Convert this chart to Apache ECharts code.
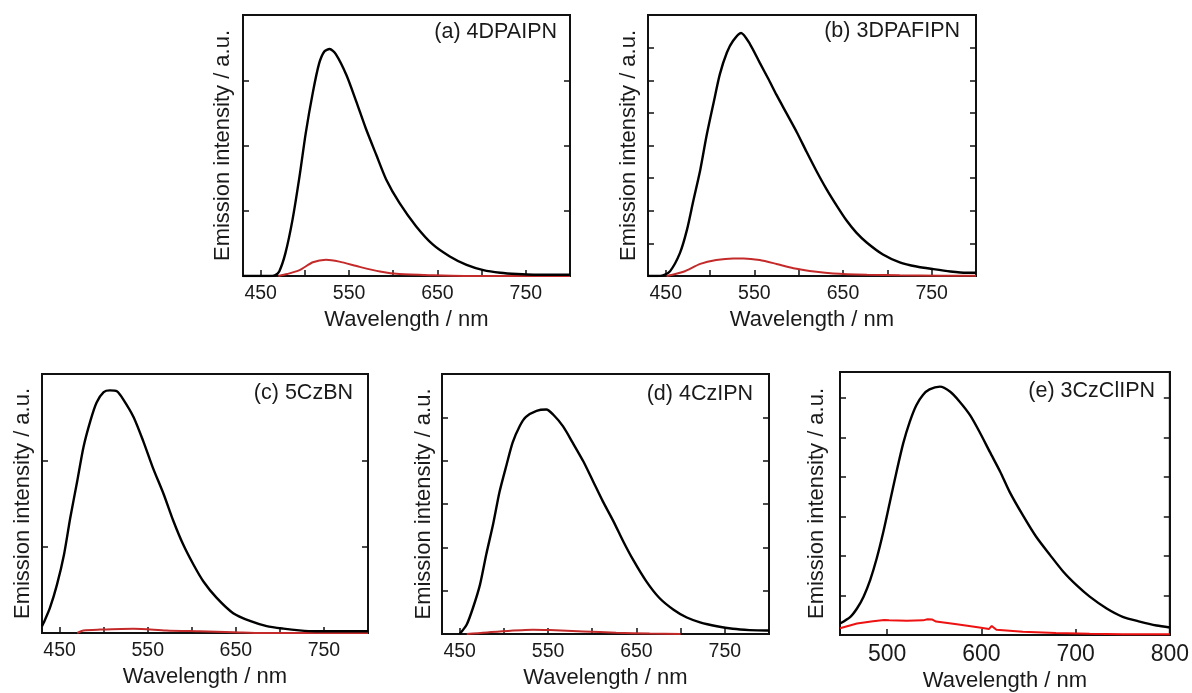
<!DOCTYPE html>
<html><head><meta charset="utf-8">
<script src="https://cdn.jsdelivr.net/npm/echarts@6/dist/echarts.min.js"></script>
<style>html,body{margin:0;padding:0;background:#fff}#c{width:1192px;height:693px}</style>
</head><body><div id="c"></div>
<script>
// ---------- data ----------
const panelTitles = ['(a) 4DPAIPN', '(b) 3DPAFIPN', '(c) 5CzBN', '(d) 4CzIPN', '(e) 3CzClIPN'];
const xName = 'Wavelength / nm';
const yName = 'Emission intensity / a.u.';

const xTicksABCD = [450, 500, 550, 600, 650, 700, 750];
const xLabelsABCD = [450, 550, 650, 750];
const xTicksE = [500, 600, 700, 800];
const xLabelsE = [500, 600, 700, 800];
const yTicksA = [1, 2, 3];
const yTicksB = [1, 2, 3, 4, 5, 6, 7];
const yTicksC = [1, 2];
const yTicksD = [1, 2, 3, 4, 5];
const yTicksE = [1, 2, 3, 4, 5, 6];

const aBlackX = [430,450,460,466,471,478,486,494,501,509,516,522,528,535,547,558,569,581,592,607,626,645,664,683,702,721,740,759,780,800];
const aBlackY = [0,0,0,0.01,0.07,0.35,0.86,1.53,2.19,2.81,3.25,3.44,3.48,3.40,3.08,2.68,2.26,1.85,1.48,1.12,0.76,0.48,0.30,0.17,0.09,0.05,0.03,0.02,0.02,0.02];
const aRedX = [470,480,494,509,524,539,562,585,607,645,680,800];
const aRedY = [0,0.03,0.09,0.21,0.25,0.22,0.14,0.07,0.03,0.01,0,0];

const bBlackX = [430,440,447,455,466,474,481,489,496,504,511,519,526,535,545,556,566,575,586,598,609,620,631,643,654,665,677,695,714,733,752,771,789,800];
const bBlackY = [0,0,0.02,0.15,0.70,1.42,2.29,3.26,4.29,5.31,6.18,6.85,7.21,7.45,7.11,6.54,6.03,5.55,5.0,4.4,3.8,3.22,2.68,2.15,1.7,1.33,1.02,0.66,0.42,0.29,0.21,0.14,0.10,0.10];
const bRedX = [451,470,489,507,526,538,556,575,594,620,639,677,714,760,800];
const bRedY = [0,0.13,0.37,0.49,0.54,0.54,0.49,0.37,0.24,0.13,0.08,0.04,0.02,0.01,0.01];

const cBlackX = [430,432,439,447,455,462,470,477,485,492,500,507,515,522,534,545,556,568,579,590,602,613,628,647,666,685,704,722,741,770,800];
const cBlackY = [0.08,0.12,0.29,0.56,0.91,1.33,1.76,2.15,2.46,2.67,2.79,2.81,2.80,2.71,2.50,2.22,1.91,1.61,1.30,1.03,0.79,0.60,0.41,0.23,0.14,0.08,0.05,0.03,0.02,0.02,0.02];
const cRedX = [470,477,496,534,571,609,647,680,800];
const cRedY = [0,0.03,0.04,0.05,0.03,0.02,0.01,0,0];

const dBlackX = [450,458,465,473,480,488,495,503,510,518,525,537,548,556,567,578,590,601,612,624,635,646,661,676,692,707,722,741,759,778,797,800];
const dBlackY = [0,0.22,0.6,1.14,1.83,2.55,3.27,3.9,4.42,4.8,5.01,5.15,5.18,5.06,4.79,4.41,3.98,3.52,3.06,2.6,2.14,1.72,1.22,0.83,0.56,0.38,0.27,0.18,0.12,0.09,0.08,0.08];
const dRedX = [458,495,533,552,590,627,665,700];
const dRedY = [0,0.06,0.10,0.09,0.06,0.03,0.01,0];

const eBlackX = [450,461,468,475,482,489,496,503,510,517,524,531,538,545,556,567,577,588,598,609,620,630,644,658,673,687,701,715,733,750,768,786,800];
const eBlackY = [0.29,0.46,0.67,0.97,1.39,1.94,2.61,3.37,4.13,4.84,5.39,5.81,6.07,6.21,6.28,6.15,5.9,5.56,5.14,4.63,4.13,3.62,3.03,2.49,2.02,1.6,1.26,0.97,0.67,0.46,0.34,0.24,0.19];
const eRedX = [450,468,485,497,499,502,521,538,543,545,548,552,574,598,608,611,613,616,644,679,715,750,800];
const eRedY = [0.17,0.29,0.35,0.38,0.41,0.37,0.36,0.37,0.40,0.43,0.39,0.34,0.27,0.19,0.15,0.23,0.2,0.13,0.08,0.05,0.03,0.02,0.02];

// ---------- layout / style ----------
const FONT = 'Liberation Sans, Arial, sans-serif';
const TXT = '#1a1a1a';
const zip = (xs, ys) => xs.map((x, i) => [x, ys[i]]);

const panels = [
  {grid:{left:243, top:15, width:327, height:261}, xmin:430, xmax:800, ymax:4, xt:xTicksABCD, xl:xLabelsABCD, yt:yTicksA, lab:19.5, lm:8, ng:33, yg:9,
   black:zip(aBlackX,aBlackY), red:zip(aRedX,aRedY), redColor:'#c42a2a', title:{right:1192-557, top:21}},
  {grid:{left:648, top:15, width:328, height:261}, xmin:430, xmax:800, ymax:8, xt:xTicksABCD, xl:xLabelsABCD, yt:yTicksB, lab:19.5, lm:8, ng:33, yg:8,
   black:zip(bBlackX,bBlackY), red:zip(bRedX,bRedY), redColor:'#c42a2a', title:{right:1192-960, top:20}},
  {grid:{left:42, top:374, width:326, height:259}, xmin:430, xmax:800, ymax:3, xt:xTicksABCD, xl:xLabelsABCD, yt:yTicksC, lab:19.5, lm:8, ng:33, yg:8,
   black:zip(cBlackX,cBlackY), red:zip(cRedX,cRedY), redColor:'#c42a2a', title:{right:1192-353, top:382}},
  {grid:{left:442, top:374, width:327, height:260}, xmin:430, xmax:800, ymax:6, xt:xTicksABCD, xl:xLabelsABCD, yt:yTicksD, lab:19.5, lm:8, ng:33, yg:7,
   black:zip(dBlackX,dBlackY), red:zip(dRedX,dRedY), redColor:'#c42a2a', title:{right:1192-753, top:383}},
  {grid:{left:840, top:372, width:330, height:263}, xmin:450, xmax:800, ymax:6.65, xt:xTicksE, xl:xLabelsE, yt:yTicksE, lab:23, lm:8, ng:35, yg:12,
   black:zip(eBlackX,eBlackY), red:zip(eRedX,eRedY), redColor:'#ee1111', title:{right:1192-1155, top:380}}
];

const option = {
  animation: false,
  backgroundColor: '#fff',
  title: [], grid: [], xAxis: [], yAxis: [], series: []
};

panels.forEach((p, i) => {
  option.title.push({
    text: panelTitles[i], right: p.title.right, top: p.title.top, padding: 0,
    textStyle: {fontFamily: FONT, fontSize: 21.5, fontWeight: 'normal', color: TXT}
  });
  option.grid.push(Object.assign({show: true, borderColor: '#111', borderWidth: 2, backgroundColor: 'transparent'}, p.grid));
  option.xAxis.push({
    type: 'value', gridIndex: i, min: p.xmin, max: p.xmax,
    name: xName, nameLocation: 'middle', nameGap: p.ng,
    nameTextStyle: {fontFamily: FONT, fontSize: 22, color: TXT},
    splitLine: {show: false},
    axisLine: {show: true, lineStyle: {color: '#111', width: 2}},
    axisTick: {show: true, inside: true, length: 6, lineStyle: {color: '#111', width: 1.5}, customValues: p.xt},
    axisLabel: {show: true, margin: p.lm, fontFamily: FONT, fontSize: p.lab, color: TXT, customValues: p.xl}
  });
  option.yAxis.push({
    type: 'value', gridIndex: i, min: 0, max: p.ymax, position: 'left',
    name: yName, nameLocation: 'middle', nameGap: p.yg,
    nameTextStyle: {fontFamily: FONT, fontSize: 22, color: TXT},
    splitLine: {show: false},
    axisLine: {show: true, lineStyle: {color: '#111', width: 2}},
    axisTick: {show: true, inside: true, length: 6, lineStyle: {color: '#111', width: 1.5}, customValues: p.yt},
    axisLabel: {show: false}
  });
  option.yAxis.push({
    type: 'value', gridIndex: i, min: 0, max: p.ymax, position: 'right',
    splitLine: {show: false},
    axisLine: {show: true, lineStyle: {color: '#111', width: 2}},
    axisTick: {show: true, inside: true, length: 6, lineStyle: {color: '#111', width: 1.5}, customValues: p.yt},
    axisLabel: {show: false}
  });
  option.series.push({
    type: 'line', xAxisIndex: i, yAxisIndex: 2 * i, data: p.red, showSymbol: false,
    smooth: i === 4 ? false : 0.25,
    lineStyle: {color: p.redColor, width: 2}, z: 2
  });
  option.series.push({
    type: 'line', xAxisIndex: i, yAxisIndex: 2 * i, data: p.black, showSymbol: false,
    smooth: 0.25,
    lineStyle: {color: '#000', width: 2.4}, z: 3
  });
});

const chart = echarts.init(document.getElementById('c'), null, {renderer: 'canvas'});
chart.setOption(option);
</script>
</body></html>
